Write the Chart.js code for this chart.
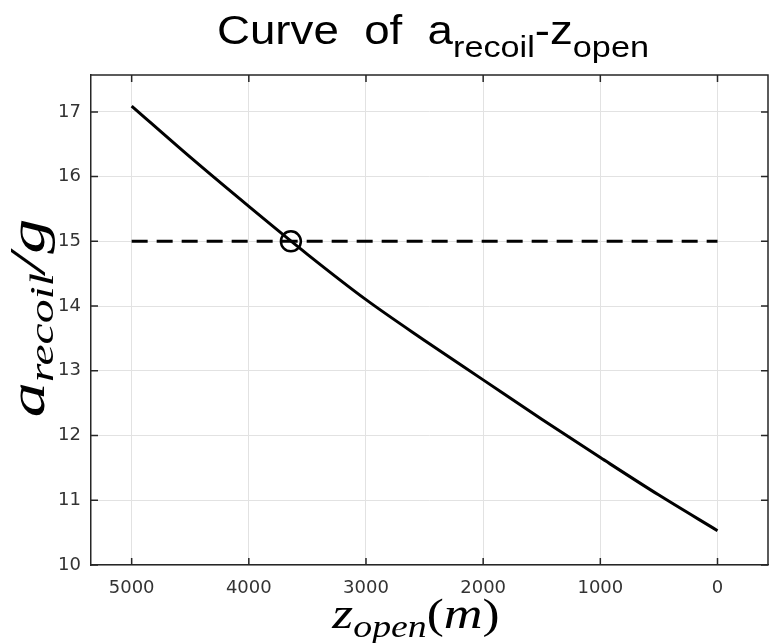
<!DOCTYPE html>
<html>
<head>
<meta charset="utf-8">
<title>Curve of a_recoil - z_open</title>
<script src="https://cdn.jsdelivr.net/npm/chart.js@4.4.1/dist/chart.umd.min.js"></script>
<style>
  html, body { margin: 0; padding: 0; background: #fff; }
  #wrap { width: 769px; height: 643px; }
</style>
</head>
<body>
<div id="wrap"><canvas id="curveChart" width="769" height="643"></canvas></div>
<script>
// values
const zOpen = [5000, 4500, 4000, 3500, 3000, 2500, 2000, 1500, 1000, 500, 0];
const aRecoil = [17.09, 16.30, 15.54, 14.80, 14.10, 13.47, 12.86, 12.25, 11.66, 11.08, 10.53];
const limitX = [5000, 0];
const limitY = [15, 15];
const crossX = [3641];
const crossY = [15];
const xTicks = [5000, 4000, 3000, 2000, 1000, 0];
const yTicks = [10, 11, 12, 13, 14, 15, 16, 17];
const xRange = [-431, 5347];
const yRange = [10, 17.57];

const AXIS = "#262626";
const GRID = "#e2e2e2";
const TICKFONT = { family: "DejaVu Sans", size: 18 };

function toPoints(xs, ys) {
  return xs.map((x, i) => ({ x: x, y: ys[i] }));
}

// draw a run of text pieces (for sub-scripts) centred on cx;
// sx stretches it sideways, or fitW squeezes/stretches it to that width
function drawRich(ctx, parts, cx, baseY, sx, fitW) {
  let total = 0;
  parts.forEach((p) => {
    ctx.font = p.font;
    p.w = ctx.measureText(p.t).width;
    total += p.w;
  });
  if (fitW) sx = fitW / total;
  ctx.save();
  ctx.translate(cx - (total * sx) / 2, baseY);
  ctx.scale(sx, 1);
  ctx.textAlign = "left";
  ctx.textBaseline = "alphabetic";
  let x = 0;
  parts.forEach((p) => {
    ctx.font = p.font;
    ctx.fillText(p.t, x, p.dy || 0);
    x += p.w;
  });
  ctx.restore();
}

// box, inward ticks and the labels, MATLAB style
const frame = {
  id: "frame",
  afterDraw(chart) {
    const ctx = chart.ctx;
    const a = chart.chartArea;
    const xs = chart.scales.x;
    const ys = chart.scales.y;
    ctx.save();
    ctx.strokeStyle = AXIS;
    ctx.lineWidth = 1.5;
    ctx.beginPath();
    ctx.moveTo(a.left, a.top);
    ctx.lineTo(a.right, a.top);
    ctx.lineTo(a.right, a.bottom);
    ctx.stroke();

    ctx.beginPath();
    xTicks.forEach((v) => {
      const px = xs.getPixelForValue(v);
      ctx.moveTo(px, a.bottom);
      ctx.lineTo(px, a.bottom - 7);
      ctx.moveTo(px, a.top);
      ctx.lineTo(px, a.top + 7);
    });
    yTicks.forEach((v) => {
      const py = ys.getPixelForValue(v);
      ctx.moveTo(a.left, py);
      ctx.lineTo(a.left + 7, py);
      ctx.moveTo(a.right, py);
      ctx.lineTo(a.right - 7, py);
    });
    ctx.stroke();

    ctx.fillStyle = "#000";
    // title
    drawRich(ctx, [
      { t: "Curve  of  a", font: "40px 'Liberation Sans'" },
      { t: "recoil", font: "30px 'Liberation Sans'", dy: 13 },
      { t: "-z", font: "40px 'Liberation Sans'" },
      { t: "open", font: "30px 'Liberation Sans'", dy: 13 },
    ], 433, 44, 1, 432);

    // x axis label
    drawRich(ctx, [
      { t: "z", font: "italic 44px 'Liberation Serif'" },
      { t: "open", font: "italic 31px 'Liberation Serif'", dy: 9 },
      { t: "(", font: "42px 'Liberation Serif'" },
      { t: "m", font: "italic 44px 'Liberation Serif'" },
      { t: ")", font: "42px 'Liberation Serif'" },
    ], 416, 628, 1.22);

    // y axis label
    ctx.translate(44, 318);
    ctx.rotate(-Math.PI / 2);
    drawRich(ctx, [
      { t: "a", font: "italic 50px 'Liberation Serif'" },
      { t: "recoil", font: "italic 34px 'Liberation Serif'", dy: 9 },
      { t: "/g", font: "italic 50px 'Liberation Serif'" },
    ], 0, 0, 1.4);
    ctx.restore();
  },
};

new Chart(document.getElementById("curveChart"), {
  type: "scatter",
  data: {
    datasets: [
      {
        label: "crossing",
        data: toPoints(crossX, crossY),
        showLine: false,
        pointStyle: "circle",
        pointRadius: 10,
        pointBorderWidth: 2.5,
        pointBorderColor: "#000",
        pointBackgroundColor: "rgba(0,0,0,0)",
        order: 0,
      },
      {
        label: "a_recoil",
        data: toPoints(zOpen, aRecoil),
        showLine: true,
        borderColor: "#000",
        borderWidth: 3,
        pointRadius: 0,
        cubicInterpolationMode: "monotone",
        order: 1,
      },
      {
        label: "limit",
        data: toPoints(limitX, limitY),
        showLine: true,
        borderColor: "#000",
        borderWidth: 3,
        borderDash: [16, 9],
        pointRadius: 0,
        order: 2,
      },
    ],
  },
  options: {
    responsive: false,
    devicePixelRatio: 1,
    animation: false,
    layout: { autoPadding: false, padding: { top: 75, right: 1, bottom: 0, left: 0 } },
    plugins: {
      legend: { display: false },
      tooltip: { enabled: false },
      title: { display: false },
    },
    scales: {
      x: {
        type: "linear",
        reverse: true,
        min: xRange[0],
        max: xRange[1],
        afterBuildTicks: (s) => {
          s.ticks = xTicks.map((v) => ({ value: v }));
        },
        afterFit: (s) => {
          s.height = 78;
        },
        grid: { color: GRID, lineWidth: 1, drawTicks: false },
        border: { color: AXIS, width: 1.5 },
        ticks: {
          padding: 13,
          color: "#333",
          font: TICKFONT,
          maxRotation: 0,
          autoSkip: false,
          callback: (v) => String(v),
        },
      },
      y: {
        type: "linear",
        min: yRange[0],
        max: yRange[1],
        afterBuildTicks: (s) => {
          s.ticks = yTicks.map((v) => ({ value: v }));
        },
        afterFit: (s) => {
          s.width = 91;
        },
        grid: { color: GRID, lineWidth: 1, drawTicks: false },
        border: { color: AXIS, width: 1.5 },
        ticks: {
          padding: 10,
          color: "#333",
          font: TICKFONT,
          autoSkip: false,
          callback: (v) => String(v),
        },
      },
    },
  },
  plugins: [frame],
});
</script>
</body>
</html>
